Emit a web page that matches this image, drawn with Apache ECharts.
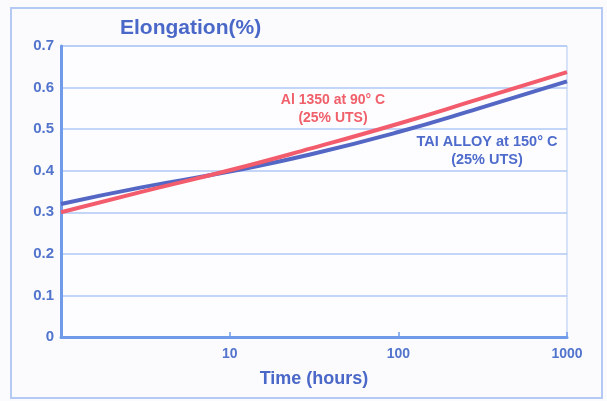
<!DOCTYPE html>
<html><head><meta charset="utf-8">
<script src="https://cdn.jsdelivr.net/npm/echarts@6/dist/echarts.min.js"></script>
<style>html,body{margin:0;padding:0;background:#fff}#c{width:607px;height:401px}</style>
</head><body><div id="c"></div>
<script>
const hours = [1, 3, 10, 30, 100, 300, 1000];
const al1350 = [0.300, 0.349, 0.401, 0.453, 0.513, 0.572, 0.637];
const taiAlloy = [0.320, 0.360, 0.398, 0.439, 0.493, 0.550, 0.615];
const xTicks = [10, 100, 1000];
const yTicks = [0, 0.1, 0.2, 0.3, 0.4, 0.5, 0.6, 0.7];

const font = 'Liberation Sans, Arial, sans-serif';
const blueText = '#5274cc';
const chart = echarts.init(document.getElementById('c'), null, {renderer: 'canvas'});
chart.setOption({
  backgroundColor: '#fbfbfe',
  animation: false,
  title: {
    text: 'Elongation(%)', left: 120, top: 18, padding: 0,
    textStyle: {fontFamily: font, fontSize: 21, fontWeight: 'bold', color: '#4a68c8'}
  },
  grid: {left: 61, right: 40, top: 46, bottom: 64, show: true, borderColor: '#b0c9f4', borderWidth: 1, backgroundColor: '#fdfdff'},
  xAxis: {
    type: 'log', logBase: 10, min: 1, max: 1000,
    name: 'Time (hours)', nameLocation: 'middle', nameGap: 33,
    nameTextStyle: {fontFamily: font, fontSize: 18, fontWeight: 'bold', color: '#4a68c8'},
    axisLine: {lineStyle: {color: '#6f9be8', width: 3}},
    axisTick: {inside: true, length: 5, lineStyle: {color: '#6f9be8', width: 1.5}},
    splitLine: {show: false},
    axisLabel: {
      margin: 10, fontFamily: font, fontSize: 14, fontWeight: 'bold', color: blueText,
      formatter: v => xTicks.indexOf(v) >= 0 ? String(v) : ''
    }
  },
  yAxis: {
    type: 'value', min: 0, max: 0.7, interval: 0.1,
    axisLine: {show: true, lineStyle: {color: '#6f9be8', width: 3}},
    axisTick: {show: false},
    splitLine: {lineStyle: {color: '#b0c9f4', width: 1.5}},
    axisLabel: {
      margin: 7, fontFamily: font, fontSize: 15, fontWeight: 'bold', color: blueText,
      formatter: v => { const t = yTicks.find(y => Math.abs(y - v) < 1e-6); return t === 0 ? '0' : (t !== undefined ? t.toFixed(1) : ''); }
    }
  },
  series: [
    {type: 'line', name: 'TAI ALLOY', smooth: true, showSymbol: false, z: 2,
     data: hours.map((h, i) => [h, taiAlloy[i]]),
     lineStyle: {color: '#5467c4', width: 4}},
    {type: 'line', name: 'Al 1350', smooth: true, showSymbol: false, z: 3,
     data: hours.map((h, i) => [h, al1350[i]]),
     lineStyle: {color: '#f25c6c', width: 4}}
  ],
  graphic: [
    {type: 'rect', shape: {x: 11, y: 8, width: 591, height: 390}, style: {fill: 'none', stroke: '#b4caf4', lineWidth: 2}, silent: true},
    {type: 'text', x: 333, y: 100, style: {text: 'Al 1350 at 90° C', align: 'center', verticalAlign: 'middle', fill: '#f0606a', font: 'bold 14px ' + font}},
    {type: 'text', x: 333, y: 118, style: {text: '(25% UTS)', align: 'center', verticalAlign: 'middle', fill: '#f0606a', font: 'bold 14px ' + font}},
    {type: 'text', x: 487, y: 142, style: {text: 'TAI ALLOY at 150° C', align: 'center', verticalAlign: 'middle', fill: '#4f6ccc', font: 'bold 14.5px ' + font}},
    {type: 'text', x: 487, y: 160, style: {text: '(25% UTS)', align: 'center', verticalAlign: 'middle', fill: '#4f6ccc', font: 'bold 14.5px ' + font}}
  ]
});
</script></body></html>
